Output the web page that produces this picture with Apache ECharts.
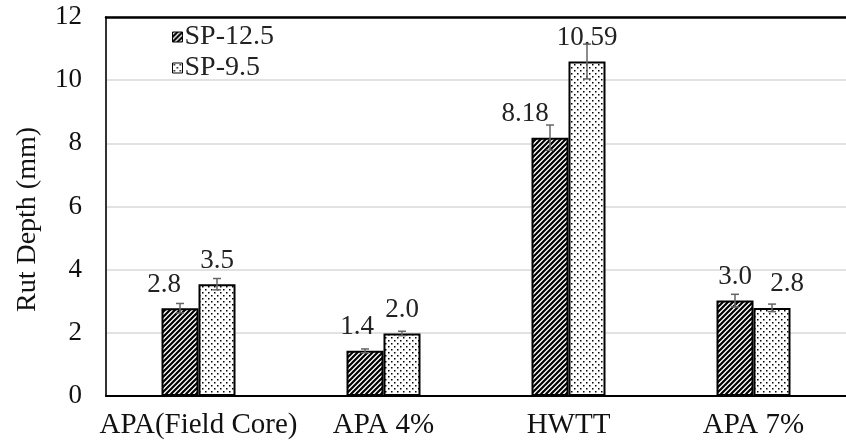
<!DOCTYPE html>
<html>
<head>
<meta charset="utf-8">
<script src="https://cdn.jsdelivr.net/npm/echarts@6/dist/echarts.min.js"></script>
<style>
html,body{margin:0;padding:0;background:#fff;}
#chart{width:846px;height:446px;}
</style>
</head>
<body>
<div id="chart"></div>
<script>
// ---- data ----
const categories = ['APA(Field Core)', 'APA 4%', 'HWTT', 'APA 7%'];
const seriesNames = ['SP-12.5', 'SP-9.5'];
const sp125 = [2.78, 1.43, 8.18, 3.02];
const sp95 = [3.54, 1.98, 10.59, 2.79];
const sp125Labels = ['2.8', '1.4', '8.18', '3.0'];
const sp95Labels = ['3.5', '2.0', '10.59', '2.8'];
const sp125Err = [0.15, 0.06, 0.4, 0.2];
const sp95Err = [0.18, 0.07, 0.55, 0.12];
const yTicks = [0, 2, 4, 6, 8, 10, 12];

// ---- styles ----
const FONT = 'Liberation Serif';
const sp125LabelOffset = [[-16, 0], [-8, 0], [-25, 0], [0, 0]];
const sp95LabelOffset = [[0, 0], [0, 0], [0, 0], [15, 0]];

function stripePattern() {
  const s = 5;
  const c = document.createElement('canvas');
  c.width = s; c.height = s;
  const g = c.getContext('2d');
  g.fillStyle = '#fff'; g.fillRect(0, 0, s, s);
  g.strokeStyle = '#000'; g.lineWidth = 2.2;
  g.beginPath();
  g.moveTo(-1, s + 1); g.lineTo(s + 1, -1);
  g.moveTo(-1, 1); g.lineTo(1, -1);
  g.moveTo(s - 1, s + 1); g.lineTo(s + 1, s - 1);
  g.stroke();
  return c;
}
function dotPattern() {
  const s = 6;
  const c = document.createElement('canvas');
  c.width = s; c.height = s;
  const g = c.getContext('2d');
  g.fillStyle = '#fff'; g.fillRect(0, 0, s, s);
  g.fillStyle = '#000';
  g.fillRect(1, 1, 1.5, 1.5);
  g.fillRect(4, 4, 1.5, 1.5);
  return c;
}
const stripeFill = { image: stripePattern(), repeat: 'repeat' };
const dotFill = { image: dotPattern(), repeat: 'repeat' };

function makeData(vals, labels, offsets) {
  return vals.map((v, i) => ({
    value: v,
    label: { formatter: labels[i], offset: offsets[i] }
  }));
}

function errSeries(vals, errs, side) {
  return {
    type: 'custom',
    z: 5,
    silent: true,
    renderItem: function (params, api) {
      const i = api.value(0);
      const v = api.value(1);
      const e = api.value(2);
      const band = api.size([1, 0])[0];
      const w = band * 0.2;
      const dx = side * w / 2;
      const top = api.coord([i, v + e]);
      const bot = api.coord([i, v - e]);
      const x = top[0] + dx;
      const cap = 4;
      const st = { stroke: '#666', lineWidth: 1.5 };
      return {
        type: 'group',
        children: [
          { type: 'line', shape: { x1: x, y1: top[1], x2: x, y2: bot[1] }, style: st },
          { type: 'line', shape: { x1: x - cap, y1: top[1], x2: x + cap, y2: top[1] }, style: st },
          { type: 'line', shape: { x1: x - cap, y1: bot[1], x2: x + cap, y2: bot[1] }, style: st }
        ]
      };
    },
    data: vals.map((v, i) => [i, v, errs[i]])
  };
}

const labelStyle = {
  show: true, position: 'top', distance: 10,
  fontFamily: FONT, fontSize: 27, color: '#222'
};

const option = {
  animation: false,
  backgroundColor: '#fff',
  grid: { left: 106, right: 0, top: 17, bottom: 50 },
  legend: {
    orient: 'vertical', left: 172, top: 23, padding: 0,
    itemWidth: 10, itemHeight: 10, itemGap: 3,
    icon: 'rect',
    data: seriesNames,
    itemStyle: { borderColor: '#000', borderWidth: 1 },
    textStyle: { fontFamily: FONT, fontSize: 28, color: '#222', padding: [0, 0, 0, -3] }
  },
  xAxis: [{
    type: 'category',
    data: categories,
    axisLine: { lineStyle: { color: '#000', width: 2 } },
    axisTick: { show: false },
    axisLabel: { interval: 0, fontFamily: FONT, fontSize: 29, color: '#111', margin: 15 }
  }, {
    type: 'category',
    data: categories,
    position: 'top',
    axisLine: { show: true, lineStyle: { color: '#000', width: 2.5 } },
    axisTick: { show: false },
    axisLabel: { show: false }
  }],
  yAxis: {
    type: 'value', min: yTicks[0], max: yTicks[yTicks.length - 1], interval: 2,
    name: 'Rut Depth (mm)', nameLocation: 'middle', nameGap: 64,
    nameTextStyle: { fontFamily: FONT, fontSize: 28, color: '#111', padding: [0, 26, 0, 0] },
    axisLine: { show: true, lineStyle: { color: '#333', width: 2 } },
    axisTick: { show: false },
    axisLabel: { fontFamily: FONT, fontSize: 27, color: '#111', margin: 24 },
    splitLine: { lineStyle: { color: '#d9d9d9', width: 1.5 } }
  },
  series: [{
    name: seriesNames[0], type: 'bar',
    barGap: '0%', barCategoryGap: '60%',
    itemStyle: { color: stripeFill, borderColor: '#000', borderWidth: 2 },
    label: labelStyle,
    data: makeData(sp125, sp125Labels, sp125LabelOffset)
  }, {
    name: seriesNames[1], type: 'bar',
    barGap: '0%', barCategoryGap: '60%',
    itemStyle: { color: dotFill, borderColor: '#000', borderWidth: 2 },
    label: labelStyle,
    data: makeData(sp95, sp95Labels, sp95LabelOffset)
  },
  errSeries(sp125, sp125Err, -1),
  errSeries(sp95, sp95Err, 1)]
};

const chart = echarts.init(document.getElementById('chart'), null, { renderer: 'canvas' });
chart.setOption(option);
</script>
</body>
</html>
